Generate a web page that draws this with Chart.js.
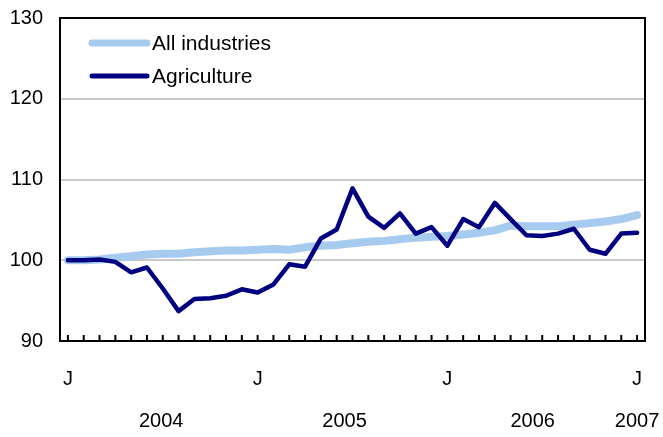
<!DOCTYPE html>
<html>
<head>
<meta charset="utf-8">
<script src="https://cdn.jsdelivr.net/npm/chart.js@4/dist/chart.umd.min.js"></script>
<style>
  html, body { margin: 0; padding: 0; background: #fff; }
  #wrap { width: 663px; height: 437px; position: relative; }
</style>
</head>
<body>
<div id="wrap"><canvas id="chart"></canvas></div>
<script>
// --- DATA (monthly index, Jan 2004 = 100) ---
const monthLabels = [
  'J','F','M','A','M','J','J','A','S','O','N','D',
  'J','F','M','A','M','J','J','A','S','O','N','D',
  'J','F','M','A','M','J','J','A','S','O','N','D',
  'J'
];
const allIndustries = [
  100.0, 100.0, 100.1, 100.3, 100.5, 100.7, 100.8, 100.8, 101.0, 101.1, 101.2, 101.2,
  101.3, 101.4, 101.3, 101.6, 101.8, 101.9, 102.1, 102.3, 102.4, 102.6, 102.8, 102.9,
  103.0, 103.2, 103.4, 103.7, 104.3, 104.2, 104.2, 104.2, 104.4, 104.6, 104.8, 105.1,
  105.6
];
const agriculture = [
  100.0, 100.0, 100.1, 99.8, 98.5, 99.1, 96.5, 93.7, 95.2, 95.3, 95.6, 96.4,
  96.0, 97.0, 99.5, 99.2, 102.7, 103.8, 108.9, 105.4, 104.0, 105.8, 103.3, 104.1,
  101.8, 105.1, 104.1, 107.1, 105.1, 103.1, 103.0, 103.3, 103.9, 101.3, 100.8, 103.3,
  103.4
];
const yearLabels = ['2004', '2005', '2006', '2007'];
const yearTickAt = [5.9, 17.5, 29.4, 36];   // month index where each year label sits
const yTicks = [90, 100, 110, 120, 130];

const FONT = '"Liberation Sans", Arial, Helvetica, sans-serif';
const LIGHT_BLUE = '#a7caef';
const NAVY = '#000080';

// --- frame, month ticks and in-plot legend ---
const framePlugin = {
  id: 'frame',
  afterDatasetsDraw(chart) {
    const { ctx, chartArea: a } = chart;
    const xs = chart.scales.x;
    ctx.save();
    ctx.strokeStyle = '#000';
    ctx.lineWidth = 2;
    ctx.strokeRect(a.left, a.top, a.right - a.left, a.bottom - a.top);
    // small month ticks pointing up from the bottom edge
    ctx.beginPath();
    xs.ticks.forEach((t, i) => {
      const px = xs.getPixelForTick(i);
      ctx.moveTo(px, a.bottom);
      ctx.lineTo(px, a.bottom - 6);
    });
    ctx.stroke();

    // legend
    ctx.font = '21px ' + FONT;
    ctx.textBaseline = 'middle';
    ctx.lineCap = 'round';
    chart.data.datasets.forEach((ds, i) => {
      const y = a.top + 25 + i * 33;
      ctx.strokeStyle = ds.borderColor;
      ctx.lineWidth = ds.legendWidth;
      ctx.beginPath();
      ctx.moveTo(a.left + 32, y);
      ctx.lineTo(a.left + 87, y);
      ctx.stroke();
      ctx.fillStyle = '#000';
      ctx.fillText(ds.label, a.left + 92, y + 1);
    });
    ctx.restore();
  }
};

const noSidePad = (s) => { s.paddingLeft = 0; s.paddingRight = 0; };

const ctx = document.getElementById('chart').getContext('2d');
new Chart(ctx, {
  type: 'line',
  data: {
    labels: monthLabels,
    datasets: [
      {
        label: 'All industries',
        data: allIndustries,
        borderColor: LIGHT_BLUE,
        backgroundColor: LIGHT_BLUE,
        borderWidth: 8,
        legendWidth: 7,
        order: 2
      },
      {
        label: 'Agriculture',
        data: agriculture,
        borderColor: NAVY,
        backgroundColor: NAVY,
        borderWidth: 4.5,
        legendWidth: 5,
        order: 1
      }
    ]
  },
  options: {
    responsive: true,
    maintainAspectRatio: false,
    animation: false,
    layout: { padding: { top: 18, left: 8, right: 18, bottom: 0 } },
    elements: {
      point: { radius: 0, hoverRadius: 0 },
      line: { tension: 0, borderJoinStyle: 'round', borderCapStyle: 'round' }
    },
    plugins: {
      legend: { display: false },
      tooltip: { enabled: false }
    },
    scales: {
      x: {
        type: 'category',
        offset: true,
        weight: 0,
        grid: { display: false, drawTicks: false },
        border: { display: false },
        afterFit: (s) => { s.height = 54; noSidePad(s); },
        ticks: {
          autoSkip: false,
          maxRotation: 0,
          padding: 26,
          color: '#000',
          font: { family: FONT, size: 20 },
          callback: (v, i) => (i % 12 === 0 ? monthLabels[i] : '')
        }
      },
      year: {
        type: 'linear',
        position: 'bottom',
        weight: 1,
        min: -0.5,
        max: 36.5,
        grid: { display: false, drawTicks: false },
        border: { display: false },
        afterFit: (s) => { s.height = 42; noSidePad(s); },
        afterBuildTicks: (s) => { s.ticks = yearTickAt.map(v => ({ value: v })); },
        ticks: {
          autoSkip: false,
          maxRotation: 0,
          padding: 14,
          color: '#000',
          font: { family: FONT, size: 20 },
          callback: (v, i) => yearLabels[i]
        }
      },
      y: {
        min: 90,
        max: 130,
        afterFit: (s) => { s.width = 52; s.paddingTop = 0; s.paddingBottom = 0; },
        afterBuildTicks: (s) => { s.ticks = yTicks.map(v => ({ value: v })); },
        grid: {
          drawTicks: false,
          lineWidth: 2,
          color: (c) => (c.tick && (c.tick.value === 90 || c.tick.value === 130)) ? 'rgba(0,0,0,0)' : '#c8c8c8'
        },
        border: { display: false },
        ticks: {
          padding: 17,
          color: '#000',
          font: { family: FONT, size: 20 }
        }
      }
    }
  },
  plugins: [framePlugin]
});
</script>
</body>
</html>
